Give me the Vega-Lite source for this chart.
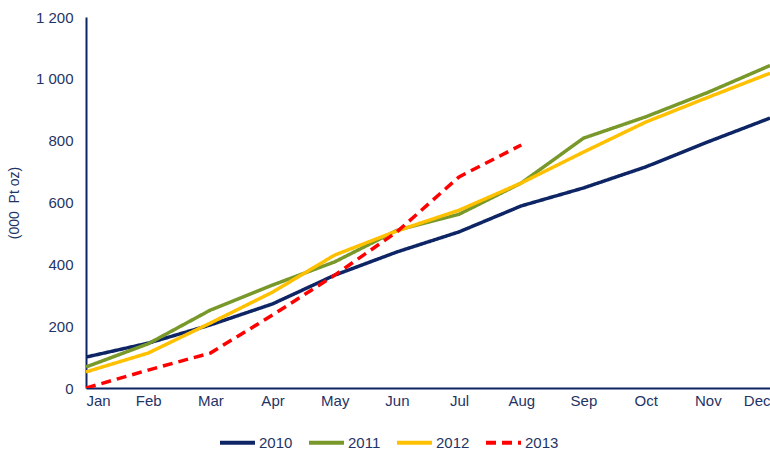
{
  "$schema": "https://vega.github.io/schema/vega-lite/v6.json",
  "width": 684,
  "height": 371,
  "autosize": "none",
  "padding": {"left": 86, "top": 17, "right": 0, "bottom": 65},
  "background": "white",
  "config": {
    "view": {"stroke": null},
    "font": "Liberation Sans",
    "axis": {"labelFont": "Liberation Sans", "titleFont": "Liberation Sans", "labelColor": "#1F3466", "titleColor": "#1F3466", "labelFontSize": 15, "grid": false, "ticks": false, "domainColor": "#0E2565", "domainWidth": 2},
    "legend": {"labelFont": "Liberation Sans", "labelColor": "#1F3466", "labelFontSize": 15}
  },
  "data": {"values": [
    {"month": "Jan", "year": "2010", "v": 100},
    {"month": "Feb", "year": "2010", "v": 145},
    {"month": "Mar", "year": "2010", "v": 204},
    {"month": "Apr", "year": "2010", "v": 272},
    {"month": "May", "year": "2010", "v": 365},
    {"month": "Jun", "year": "2010", "v": 440},
    {"month": "Jul", "year": "2010", "v": 505},
    {"month": "Aug", "year": "2010", "v": 589},
    {"month": "Sep", "year": "2010", "v": 647},
    {"month": "Oct", "year": "2010", "v": 715},
    {"month": "Nov", "year": "2010", "v": 796},
    {"month": "Dec", "year": "2010", "v": 873},
    {"month": "Jan", "year": "2011", "v": 68},
    {"month": "Feb", "year": "2011", "v": 143},
    {"month": "Mar", "year": "2011", "v": 252},
    {"month": "Apr", "year": "2011", "v": 333},
    {"month": "May", "year": "2011", "v": 408},
    {"month": "Jun", "year": "2011", "v": 510},
    {"month": "Jul", "year": "2011", "v": 562},
    {"month": "Aug", "year": "2011", "v": 663},
    {"month": "Sep", "year": "2011", "v": 808},
    {"month": "Oct", "year": "2011", "v": 877},
    {"month": "Nov", "year": "2011", "v": 956},
    {"month": "Dec", "year": "2011", "v": 1043},
    {"month": "Jan", "year": "2012", "v": 52},
    {"month": "Feb", "year": "2012", "v": 113},
    {"month": "Mar", "year": "2012", "v": 210},
    {"month": "Apr", "year": "2012", "v": 310},
    {"month": "May", "year": "2012", "v": 430},
    {"month": "Jun", "year": "2012", "v": 508},
    {"month": "Jul", "year": "2012", "v": 575},
    {"month": "Aug", "year": "2012", "v": 663},
    {"month": "Sep", "year": "2012", "v": 763},
    {"month": "Oct", "year": "2012", "v": 860},
    {"month": "Nov", "year": "2012", "v": 940},
    {"month": "Dec", "year": "2012", "v": 1018},
    {"month": "Jan", "year": "2013", "v": 0},
    {"month": "Feb", "year": "2013", "v": 58},
    {"month": "Mar", "year": "2013", "v": 113},
    {"month": "Apr", "year": "2013", "v": 236},
    {"month": "May", "year": "2013", "v": 365},
    {"month": "Jun", "year": "2013", "v": 505},
    {"month": "Jul", "year": "2013", "v": 683},
    {"month": "Aug", "year": "2013", "v": 786}
  ]},
  "mark": {"type": "line", "strokeWidth": 3.5, "clip": true},
  "encoding": {
    "x": {
      "field": "month", "type": "ordinal",
      "sort": ["Jan","Feb","Mar","Apr","May","Jun","Jul","Aug","Sep","Oct","Nov","Dec"],
      "scale": {"type": "point", "padding": 0},
      "axis": {"title": null, "labelAngle": 0, "labelPadding": 5, "labelFlush": true}
    },
    "y": {
      "field": "v", "type": "quantitative",
      "scale": {"domain": [0, 1200], "nice": false},
      "axis": {"values": [0, 200, 400, 600, 800, 1000, 1200], "labelExpr": "replace(format(datum.value, ','), ',', ' ')", "title": "(000\u00a0\u00a0Pt oz)", "titleFontSize": 14, "titleFontWeight": "normal", "labelPadding": 13, "titlePadding": 14}
    },
    "color": {
      "field": "year", "type": "nominal", "title": null,
      "scale": {"domain": ["2010","2011","2012","2013"], "range": ["#0E2565", "#78982A", "#FFC000", "#FF0000"]},
      "legend": {"orient": "none", "legendX": 132, "legendY": 406, "direction": "horizontal", "symbolType": "stroke", "symbolSize": 1225, "symbolStrokeWidth": 4, "labelOffset": 2, "columnPadding": 8}
    },
    "strokeDash": {
      "field": "year", "type": "nominal", "title": null,
      "scale": {"domain": ["2010","2011","2012","2013"], "range": [[1, 0], [1, 0], [1, 0], [10, 6]]},
      "legend": {"orient": "none", "legendX": 132, "legendY": 406, "direction": "horizontal", "symbolType": "stroke", "symbolSize": 1225, "symbolStrokeWidth": 4, "labelOffset": 2, "columnPadding": 8}
    }
  }
}
